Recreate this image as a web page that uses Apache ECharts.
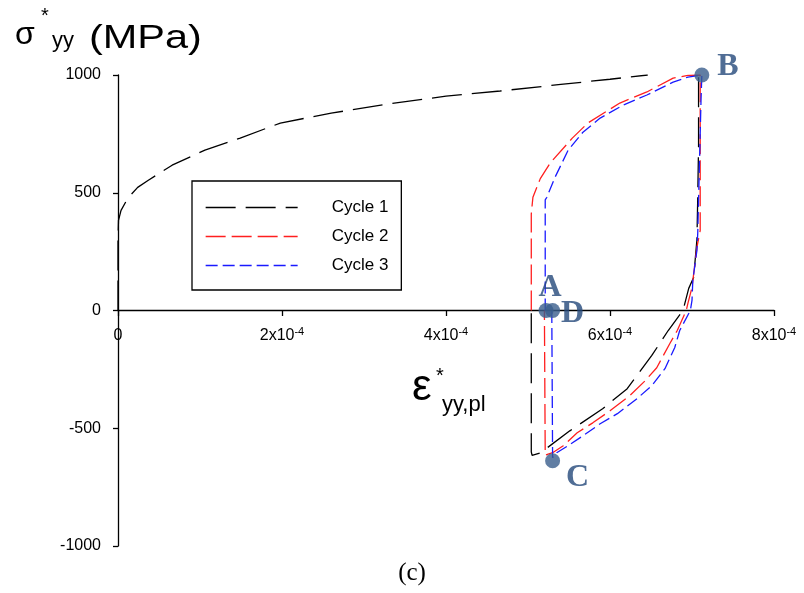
<!DOCTYPE html>
<html><head><meta charset="utf-8">
<script src="https://cdn.jsdelivr.net/npm/echarts@6/dist/echarts.min.js"></script>
<style>html,body{margin:0;padding:0;background:#fff}#c{width:804px;height:593px}</style>
</head><body><div id="c"></div>
<script>
// strain values in units of 1e-6, stress in MPa
const seriesNames = ['Cycle 1', 'Cycle 2', 'Cycle 3'];
const cycle1X = [0, 0, 0.6, 3.7, 12, 24, 37, 66, 106, 149, 198, 260, 330, 400, 466, 540, 600, 646, '-', 708, 708, 707, 706, 702, 696, 689, 671, 651, 621, 591, 551, 515, 505, 504, 504];
const cycle1Y = [0, 300, 383, 425, 477, 523, 553, 617, 681, 732, 796, 838, 877, 910, 932, 960, 982, 1000, '-', 990, 700, 480, 300, 140, 94, 0, -85, -191, -332, -417, -511, -605, -615, -600, 0];
const cycle2X = [504, 504, 506, 515, 527, 554, 573, 612, 645, 677, 695, 710, 710, 710, 706, 700, 695, 693, 682, 673, 657, 643, 624, 600, 579, 560, 543, 530, 521, 520, 520];
const cycle2Y = [0, 410, 481, 560, 626, 732, 796, 881, 928, 987, 998, 1000, 681, 340, 268, 98, 30, 0, -85, -140, -243, -298, -362, -426, -477, -519, -574, -604, -614, -610, 0];
const cycle3X = [521, 521, 523, 533, 549, 567, 588, 616, 645, 677, 695, 712, 711, 707, 706, 701, 700, 698, 685, 679, 667, 651, 633, 609, 588, 567, 549, 535, 530, 529, 529];
const cycle3Y = [0, 470, 481, 566, 681, 757, 817, 872, 915, 970, 991, 1000, 894, 328, 255, 128, 43, 0, -85, -157, -247, -319, -374, -438, -481, -532, -574, -604, -625, -617, 0];
const pointNames = ['A', 'B', 'C', 'D'];
const pointX = [522, 712, 530, 530];
const pointY = [0, 1000, -638, 0];
const xTickValues = [0, 200, 400, 600, 800];
const xTickLabels = ['0', '2x10', '4x10', '6x10', '8x10'];
const xTickExps = ['', '-4', '-4', '-4', '-4'];
const yTickValues = [-1000, -500, 0, 500, 1000];

const colors = ['#000000', '#ff1f1f', '#1a1aff'];
const dashes = [[30, 10], [20, 6], [12, 5]];
const xs = [cycle1X, cycle2X, cycle3X];
const ys = [cycle1Y, cycle2Y, cycle3Y];
const labelOffsets = { A: [4, -23], B: [26, -8], C: [25, 17], D: [20, 3] };

const lineSeries = seriesNames.map((n, i) => ({
  name: n, type: 'line', symbol: 'none', showSymbol: false, connectNulls: false,
  xAxisIndex: 0, yAxisIndex: 0,
  data: xs[i].map((x, k) => [x, ys[i][k]]),
  lineStyle: { color: colors[i], width: 1.3, type: dashes[i] },
  itemStyle: { color: colors[i] },
  z: 3 + i
}));

const pointSeries = {
  type: 'scatter', symbolSize: 15, z: 10, xAxisIndex: 0, yAxisIndex: 0,
  itemStyle: { color: '#3a5e8c' },
  data: pointNames.map((n, i) => ({
    name: n, value: [pointX[i], pointY[i]],
    label: { show: true, position: 'inside', offset: labelOffsets[n], formatter: n,
      fontFamily: 'Liberation Serif', fontWeight: 'bold', fontSize: 32, color: '#24497a' }
  }))
};

const fontSans = 'Arial, Liberation Sans';
const chart = echarts.init(document.getElementById('c'), null, { renderer: 'canvas' });
chart.setOption({
  animation: false,
  backgroundColor: '#fff',
  grid: [
    { left: 118, right: 30, top: 75, bottom: 47, containLabel: false },
    // upper half grid: its bottom edge is the zero line, used to place x tick labels there
    { left: 118, right: 30, top: 75, bottom: 283, containLabel: false }
  ],
  xAxis: [{
    type: 'value', min: 0, max: 800, interval: 200, gridIndex: 0,
    axisLine: { onZero: true, lineStyle: { color: '#000', width: 1.3 } },
    axisTick: { show: false },
    splitLine: { show: false },
    axisLabel: { show: false }
  }, {
    type: 'value', min: 0, max: 800, interval: 200, gridIndex: 1, position: 'bottom',
    axisLine: { show: false, onZero: false },
    axisTick: { show: true, inside: false, length: 6, lineStyle: { color: '#000', width: 1.3 } },
    splitLine: { show: false },
    axisLabel: {
      margin: 16, color: '#000',
      formatter: (v) => {
        const i = xTickValues.indexOf(v);
        if (i < 0) return '';
        return xTickExps[i] ? '{m|' + xTickLabels[i] + '}{e|' + xTickExps[i] + '}' : '{m|' + xTickLabels[i] + '}';
      },
      rich: {
        m: { fontFamily: fontSans, fontSize: 16, lineHeight: 20, color: '#000' },
        e: { fontFamily: fontSans, fontSize: 11, lineHeight: 12, verticalAlign: 'top', color: '#000' }
      }
    }
  }],
  yAxis: [{
    type: 'value', min: -1000, max: 1000, interval: 500, gridIndex: 0,
    axisLine: { show: true, onZero: false, lineStyle: { color: '#000', width: 1.3 } },
    axisTick: { show: true, inside: false, length: 5, lineStyle: { color: '#000', width: 1.3 } },
    splitLine: { show: false },
    axisLabel: { margin: 17, color: '#000', fontFamily: fontSans, fontSize: 16,
      formatter: (v) => (yTickValues.indexOf(v) >= 0 ? String(v) : '') }
  }, {
    type: 'value', min: 0, max: 1000, gridIndex: 1, show: false
  }],
  legend: {
    data: seriesNames, orient: 'vertical', left: 192, top: 181,
    itemWidth: 92, itemHeight: 14, itemGap: 12,
    padding: [18, 13, 16, 13],
    borderColor: '#000', borderWidth: 1.3, backgroundColor: '#fff',
    selectedMode: false,
    itemStyle: { opacity: 0 },
    lineStyle: { width: 1.3 },
    textStyle: { fontFamily: fontSans, fontSize: 17, color: '#000', padding: [0, 0, 0, 29] }
  },
  graphic: [
    { type: 'text', x: 15, y: 35, style: { text: 'σ', font: '32px ' + fontSans, fill: '#000', verticalAlign: 'middle' } },
    { type: 'text', x: 41, y: 16, style: { text: '*', font: '20px ' + fontSans, fill: '#000', verticalAlign: 'middle' } },
    { type: 'text', x: 52, y: 41, style: { text: 'yy', font: '22px ' + fontSans, fill: '#000', verticalAlign: 'middle' } },
    { type: 'text', x: 89, y: 39, scaleX: 1.22, style: { text: '(MPa)', font: '34px ' + fontSans, fill: '#000', verticalAlign: 'middle' } },
    { type: 'text', x: 412, y: 388, style: { text: 'ε', font: '44px ' + fontSans, fill: '#000', verticalAlign: 'middle' } },
    { type: 'text', x: 436, y: 376, style: { text: '*', font: '20px ' + fontSans, fill: '#000', verticalAlign: 'middle' } },
    { type: 'text', x: 442, y: 405, style: { text: 'yy,pl', font: '22px ' + fontSans, fill: '#000', verticalAlign: 'middle' } },
    { type: 'text', x: 412, y: 573, style: { text: '(c)', font: '25px Liberation Serif, Times New Roman', fill: '#000', align: 'center', verticalAlign: 'middle' } }
  ],
  series: [...lineSeries, pointSeries]
});
</script></body></html>
